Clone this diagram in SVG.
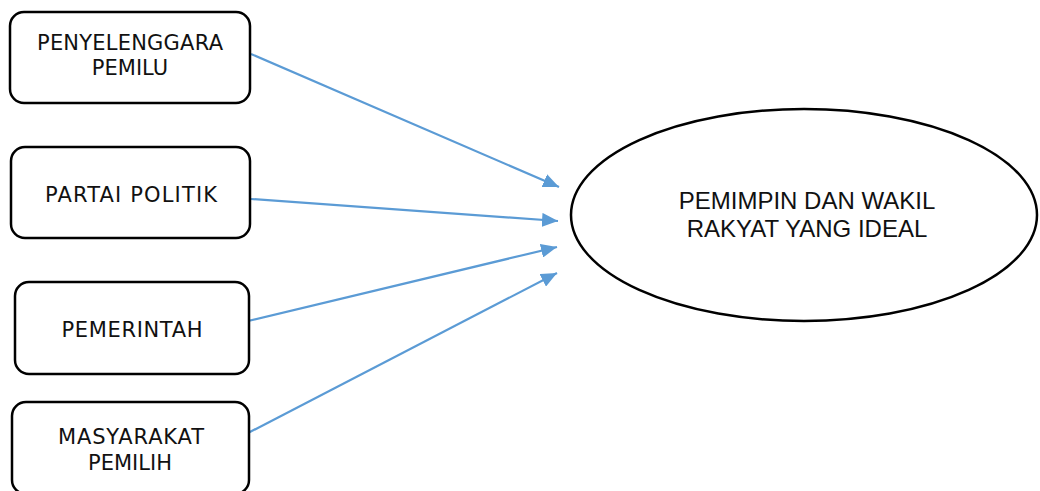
<svg xmlns="http://www.w3.org/2000/svg" width="1040" height="491" viewBox="0 0 1040 491">
  <style>
    .box { fill: #ffffff; stroke: #000000; stroke-width: 2.5; }
    .btxt { font-family: "DejaVu Sans", Verdana, sans-serif; font-size: 21px; fill: #111111; text-anchor: middle; }
    .etxt { font-family: "Liberation Sans", Arial, sans-serif; font-size: 24px; fill: #111111; text-anchor: middle; }
    .conn { stroke: #5B9BD5; stroke-width: 2.2; fill: none; marker-end: url(#arrow); }
  </style>
  <defs>
    <marker id="arrow" markerUnits="userSpaceOnUse" markerWidth="16" markerHeight="14" refX="16" refY="7" orient="auto">
      <path d="M0,0 L16,7 L0,14 Z" fill="#5B9BD5"/>
    </marker>
  </defs>
  <rect width="1040" height="491" fill="#ffffff"/>
  <g id="connectors">
    <line class="conn" x1="251" y1="54" x2="559" y2="187"/>
    <line class="conn" x1="251" y1="199" x2="558" y2="221"/>
    <line class="conn" x1="248" y1="321" x2="557" y2="247"/>
    <line class="conn" x1="248" y1="433" x2="557" y2="273"/>
  </g>
  <g id="node-penyelenggara">
    <rect class="box" x="10" y="12" width="240" height="91" rx="14"/>
    <text class="btxt" x="130" y="50" textLength="186" lengthAdjust="spacing">PENYELENGGARA</text>
    <text class="btxt" x="130" y="75">PEMILU</text>
  </g>
  <g id="node-partai">
    <rect class="box" x="11" y="147" width="239" height="91" rx="14"/>
    <text class="btxt" x="131" y="202" textLength="172" lengthAdjust="spacing">PARTAI POLITIK</text>
  </g>
  <g id="node-pemerintah">
    <rect class="box" x="15" y="282" width="234" height="92" rx="14"/>
    <text class="btxt" x="132" y="337" textLength="141" lengthAdjust="spacing">PEMERINTAH</text>
  </g>
  <g id="node-masyarakat">
    <rect class="box" x="12" y="402" width="237" height="92" rx="14"/>
    <text class="btxt" x="131" y="444" textLength="146" lengthAdjust="spacing">MASYARAKAT</text>
    <text class="btxt" x="130" y="470">PEMILIH</text>
  </g>
  <g id="node-pemimpin">
    <ellipse cx="804" cy="215" rx="233" ry="106" fill="#ffffff" stroke="#000000" stroke-width="2.5"/>
    <text class="etxt" x="807" y="209">PEMIMPIN DAN WAKIL</text>
    <text class="etxt" x="807" y="237">RAKYAT YANG IDEAL</text>
  </g>
</svg>
